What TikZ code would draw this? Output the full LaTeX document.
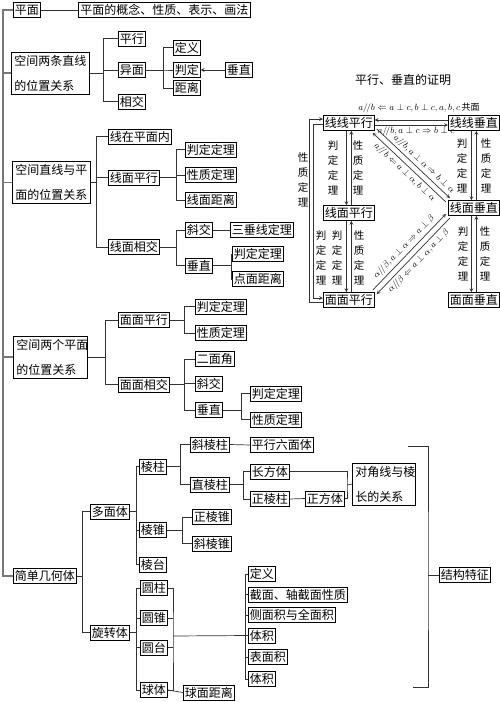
\documentclass[tikz,border=0pt]{standalone}
\usepackage{amsmath,amssymb}
\usepackage{fontspec}
\setmainfont{Noto Sans CJK SC}
\usepackage{xcolor}
\usetikzlibrary{arrows, positioning, calc}
\definecolor{LineGray}{RGB}{50, 50, 50}
\definecolor{TrunkGray}{RGB}{120, 120, 120}

\begin{document}
\begin{tikzpicture}[
        x=1pt, y=-1pt,
        box/.style={draw, line width=0.7pt, inner xsep=1.5pt, inner ysep=1.5pt, minimum height=15pt, font=\fontsize{12}{14}\selectfont},
        twoline/.style={box, align=left, text width=#1, inner xsep=3pt, inner ysep=3pt, font=\fontsize{12}{25}\selectfont},
        link/.style={draw=LineGray, line width=0.7pt},
        trunk/.style={draw=TrunkGray, line width=1.3pt},
        arr/.style={link, ->, >=stealth},
        vtext/.style={align=center, inner sep=0pt, font=\fontsize{10.5}{15}\selectfont},
        mlabel/.style={inner sep=1pt, font=\fontsize{9}{10}\selectfont},
        dlabel/.style={inner sep=0.5pt, font=\fontsize{9.5}{10}\selectfont}
    ]
    \useasboundingbox (0,0) rectangle (500,702);

    % left column
    \node[box, anchor=west] (pm) at (13,10) {平面};
    \node[box, anchor=west, minimum width=172pt] (pmgn) at (78,10) {平面的概念、性质、表示、画法};
    \node[twoline=72pt, anchor=west] (lx) at (11,73) {空间两条直线\\的位置关系};
    \node[twoline=72pt, anchor=west] (xm) at (12,182.5) {空间直线与平\\面的位置关系};
    \node[twoline=68pt, anchor=west] (mm) at (13,357) {空间两个平面\\的位置关系};
    \node[box, anchor=west] (jh) at (13,576) {简单几何体};

    \coordinate (trunktop) at (3,10);
    \coordinate (trunkbot) at (3,576);
    \draw[trunk] (pm.west) -- (trunktop) -- (trunkbot) -- (jh.west);
    \foreach \c in {lx,xm,mm} \draw[trunk] (\c.west) -- (\c.west -| trunktop);
    \draw[link] (pm.east) -- (pmgn.west);

    % two lines
    \node[box, anchor=west] (px) at (118,38.5) {平行};
    \node[box, anchor=west] (ym) at (118,70) {异面};
    \node[box, anchor=west] (xj) at (118,101.5) {相交};
    \node[box, anchor=west] (dy) at (173,47.5) {定义};
    \node[box, anchor=west] (pd) at (173,70) {判定};
    \node[box, anchor=west] (jl) at (173,88) {距离};
    \node[box, anchor=west] (cz) at (225,70) {垂直};
    \foreach \c in {px,ym,xj} \draw[link] (lx.east) -- ++(14,0) |- (\c.west);
    \foreach \c in {dy,pd,jl} \draw[link] (ym.east) -- ++(18,0) |- (\c.west);
    \draw[arr] (cz.west) -- (pd.east);

    % line and plane
    \node[box, anchor=west] (xzpm) at (108,136.5) {线在平面内};
    \node[box, anchor=west] (xmpx) at (108,177.5) {线面平行};
    \node[box, anchor=west] (xmxj) at (108,247) {线面相交};
    \node[box, anchor=west] (pd1) at (185,149.5) {判定定理};
    \node[box, anchor=west] (xz1) at (185,175) {性质定理};
    \node[box, anchor=west] (xmjl) at (185,200) {线面距离};
    \node[box, anchor=west] (xj1) at (185,230) {斜交};
    \node[box, anchor=west] (szx) at (230,230) {三垂线定理};
    \node[box, anchor=west] (cz1) at (185,265.5) {垂直};
    \node[box, anchor=west] (pd2) at (232,254) {判定定理};
    \node[box, anchor=west] (dmjl) at (232,279) {点面距离};
    \foreach \c in {xzpm,xmpx,xmxj} \draw[link] (xm.east) -- ++(6,0) |- (\c.west);
    \foreach \c in {pd1,xz1,xmjl} \draw[link] (xmpx.east) -- ++(17,0) |- (\c.west);
    \foreach \c in {xj1,cz1} \draw[link] (xmxj.east) -- ++(17,0) |- (\c.west);
    \draw[link] (xj1.east) -- (szx.west);
    \foreach \c in {pd2,dmjl} \draw[link] (cz1.east) -- ++(19,0) |- (\c.west);

    % two planes
    \node[box, anchor=west] (mmpx) at (118,320) {面面平行};
    \node[box, anchor=west] (mmxj) at (118,384.5) {面面相交};
    \node[box, anchor=west] (pd3) at (195,306.5) {判定定理};
    \node[box, anchor=west] (xz3) at (195,333) {性质定理};
    \node[box, anchor=west] (emj) at (195,359) {二面角};
    \node[box, anchor=west] (xj3) at (195,383.5) {斜交};
    \node[box, anchor=west] (cz3) at (195,410) {垂直};
    \node[box, anchor=west] (pd4) at (250,393.5) {判定定理};
    \node[box, anchor=west] (xz4) at (250,419.5) {性质定理};
    \foreach \c in {mmpx,mmxj} \draw[link] (mm.east) -- ++(18,0) |- (\c.west);
    \foreach \c in {pd3,xz3} \draw[link] (mmpx.east) -- ++(15,0) |- (\c.west);
    \foreach \c in {emj,xj3,cz3} \draw[link] (mmxj.east) -- ++(15,0) |- (\c.west);
    \foreach \c in {pd4,xz4} \draw[link] (cz3.east) -- ++(19,0) |- (\c.west);

    % solids
    \node[box, anchor=west] (dmt) at (90,511.5) {多面体};
    \node[box, anchor=west] (xzt) at (90,632.5) {旋转体};
    \node[box, anchor=west] (lz) at (139,466.5) {棱柱};
    \node[box, anchor=west] (lzhui) at (139,530) {棱锥};
    \node[box, anchor=west] (lt) at (139,564.5) {棱台};
    \node[box, anchor=west] (xlz) at (190,444.5) {斜棱柱};
    \node[box, anchor=west] (zlz) at (190,484.5) {直棱柱};
    \node[box, anchor=west] (pxlmt) at (250,445) {平行六面体};
    \node[box, anchor=west] (cft) at (250,471.5) {长方体};
    \node[box, anchor=west] (zlz2) at (250,499) {正棱柱};
    \node[box, anchor=west] (zft) at (305,498.5) {正方体};
    \node[twoline=57pt, anchor=west] (djx) at (352,484) {对角线与棱\\长的关系};
    \node[box, anchor=west] (zlzhui) at (192,517) {正棱锥};
    \node[box, anchor=west] (xlzhui) at (192,543.5) {斜棱锥};
    \node[box, anchor=west] (yz) at (140,588) {圆柱};
    \node[box, anchor=west] (yzhui) at (140,618) {圆锥};
    \node[box, anchor=west] (yt) at (140,647.5) {圆台};
    \node[box, anchor=west] (qt) at (140,690) {球体};
    \node[box, anchor=west] (qmjl) at (183,692.5) {球面距离};
    \node[box, anchor=west] (dy2) at (248,574) {定义};
    \node[box, anchor=west] (jm) at (248,594.5) {截面、轴截面性质};
    \node[box, anchor=west] (cmj) at (248,615) {侧面积与全面积};
    \node[box, anchor=west] (tj) at (248,635.5) {体积};
    \node[box, anchor=west] (bmj) at (248,657) {表面积};
    \node[box, anchor=west] (tj2) at (248,679) {体积};
    \node[box, anchor=west] (jgtz) at (439,575) {结构特征};

    \foreach \c in {dmt,xzt} \draw[link] (jh.east) -- ++(6,0) |- (\c.west);
    \foreach \c in {lz,lzhui,lt} \draw[link] (dmt.east) -- ++(7,0) |- (\c.west);
    \foreach \c in {xlz,zlz} \draw[link] (lz.east) -- ++(14,0) |- (\c.west);
    \draw[link] (xlz.east) -- (pxlmt.west);
    \foreach \c in {cft,zlz2} \draw[link] (zlz.east) -- ++(14,0) |- (\c.west);
    \draw[link] (zlz2.east) -- (zft.west);
    \coordinate (jn) at (347,485);
    \draw[link] (cft.east) -| (jn) |- (zft.east);
    \draw[link] (jn) -- (djx.west);
    \foreach \c in {zlzhui,xlzhui} \draw[link] (lzhui.east) -- ++(16,0) |- (\c.west);
    \foreach \c in {yz,yzhui,yt,qt} \draw[link] (xzt.east) -- ++(7,0) |- (\c.west);
    \coordinate (rb) at (173,636);
    \draw[link] (yz.east) -| (rb) |- (qt.east);
    \foreach \c in {yzhui,yt} \draw[link] (\c.east) -- (\c.east -| rb);
    \draw[link] (rb) -- (tj.west);
    \draw[link] (qt.east) -- (qmjl.west);
    \foreach \c in {dy2,jm,cmj,tj,bmj,tj2} \draw[link] (tj.west) -- ++(-3,0) |- (\c.west);
    \coordinate (jgt) at (408,446);
    \coordinate (jgb) at (413,687);
    \coordinate (jgm) at (428,575);
    \draw[link] (jgt) -| (jgm) |- (jgb);
    \draw[link] (jgm) -- (jgtz.west);

    % proof chart
    \node[font=\fontsize{12}{14}\selectfont] (title) at (403,80) {平行、垂直的证明};
    \node[box, anchor=west] (llpx) at (323,123) {线线平行};
    \node[box, anchor=west] (llcz) at (448,123) {线线垂直};
    \node[box, anchor=west] (xmpx2) at (323,213) {线面平行};
    \node[box, anchor=west] (xmcz) at (448,208) {线面垂直};
    \node[box, anchor=west] (mmpx2) at (323,300) {面面平行};
    \node[box, anchor=west] (mmcz) at (448,300) {面面垂直};

    \draw[arr] ([yshift=3pt]llcz.west) -- ([yshift=3pt]llpx.east);
    \draw[arr] ([yshift=-2pt]llpx.east) -- ([yshift=-2pt]llcz.west);
    \node[mlabel] (ll1) at (419,108) {$a/\!/b\Leftarrow a\perp c,b\perp c,a,b,c$\,共面};
    \node[mlabel] (ll2) at (416,131.5) {$a/\!/b,a\perp c\Rightarrow b\perp c$};

    \draw[arr] ([xshift=-2.5pt]llpx.south) -- ([xshift=-2.5pt]xmpx2.north);
    \draw[arr] ([xshift=2.5pt]xmpx2.north) -- ([xshift=2.5pt]llpx.south);
    \draw[arr] ([xshift=-2.5pt]xmpx2.south) -- ([xshift=-2.5pt]mmpx2.north);
    \draw[arr] ([xshift=2.5pt]mmpx2.north) -- ([xshift=2.5pt]xmpx2.south);
    \draw[arr] ([xshift=-2.5pt]llcz.south) -- ([xshift=-2.5pt]xmcz.north);
    \draw[arr] ([xshift=2.5pt]xmcz.north) -- ([xshift=2.5pt]llcz.south);
    \draw[arr] ([xshift=-2.5pt]xmcz.south) -- ([xshift=-2.5pt]mmcz.north);
    \draw[arr] ([xshift=2.5pt]mmcz.north) -- ([xshift=2.5pt]xmcz.south);
    \draw[arr] ([yshift=-2pt]mmpx2.west) -- ++(-14,0) |- ([yshift=4pt]llpx.west);
    \draw[arr] ([yshift=-1pt]llpx.west) -- ++(-10,0) |- ([yshift=2pt]mmpx2.west);

    \node[vtext] (v1) at (333,168) {判\\定\\定\\理};
    \node[vtext] (v2) at (358,168) {性\\质\\定\\理};
    \node[vtext] (v3) at (462,166) {判\\定\\定\\理};
    \node[vtext] (v4) at (486,166) {性\\质\\定\\理};
    \node[vtext] (v5) at (337,258) {判\\定\\定\\理};
    \node[vtext] (v6) at (359,258) {性\\质\\定\\理};
    \node[vtext] (v7) at (463,254) {判\\定\\定\\理};
    \node[vtext] (v8) at (485,254) {性\\质\\定\\理};
    \node[vtext] (v9) at (303,180) {性\\质\\定\\理};
    \node[vtext] (v10) at (321,258) {判\\定\\定\\理};

    \draw[arr] ([xshift=2pt,yshift=2pt]llpx.south east) -- node[dlabel, above=1.5pt, sloped, pos=0.58] {$a/\!/b,a\perp\alpha\Rightarrow b\perp\alpha$} ([xshift=2pt,yshift=2pt]xmcz.north west);
    \draw[arr, <-] ([xshift=-2pt,yshift=-2pt]llpx.south east) -- node[dlabel, below=1.5pt, sloped] {$a/\!/b\Leftarrow a\perp\alpha,b\perp\alpha$} ([xshift=-2pt,yshift=-2pt]xmcz.north west);
    \draw[arr] ([xshift=-2pt,yshift=2pt]mmpx2.north east) -- node[dlabel, above=2pt, sloped] {$\alpha/\!/\beta,a\perp\alpha\Rightarrow a\perp\beta$} ([xshift=-2pt,yshift=2pt]xmcz.south west);
    \draw[arr, <-] ([xshift=2pt,yshift=-2pt]mmpx2.north east) -- node[dlabel, below=2pt, sloped] {$\alpha/\!/\beta\Leftarrow a\perp\alpha,a\perp\beta$} ([xshift=2pt,yshift=-2pt]xmcz.south west);

\end{tikzpicture}
\end{document}
